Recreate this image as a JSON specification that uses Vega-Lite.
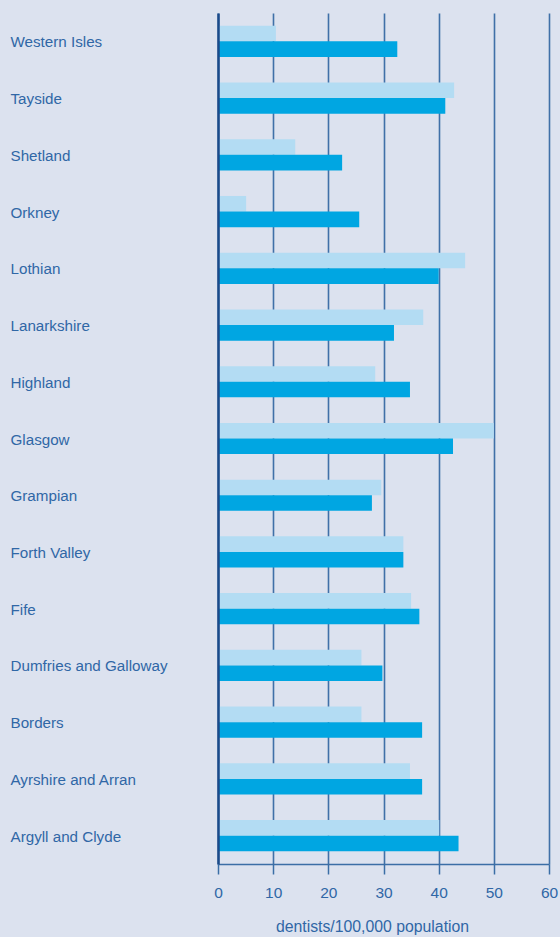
{
  "$schema": "https://vega.github.io/schema/vega-lite/v6.json",
  "width": 331,
  "height": 851,
  "autosize": {"type": "none"},
  "padding": {"left": 218, "top": 13, "right": 11, "bottom": 73},
  "background": "#dce2ef",
  "config": {
    "view": {"stroke": null},
    "font": "Liberation Sans"
  },
  "data": {
    "values": [
      {"board": "Western Isles", "series": "A", "value": 10.5},
      {"board": "Western Isles", "series": "B", "value": 32.5},
      {"board": "Tayside", "series": "A", "value": 42.8},
      {"board": "Tayside", "series": "B", "value": 41.2},
      {"board": "Shetland", "series": "A", "value": 14.0},
      {"board": "Shetland", "series": "B", "value": 22.5},
      {"board": "Orkney", "series": "A", "value": 5.1},
      {"board": "Orkney", "series": "B", "value": 25.6},
      {"board": "Lothian", "series": "A", "value": 44.8},
      {"board": "Lothian", "series": "B", "value": 40.0},
      {"board": "Lanarkshire", "series": "A", "value": 37.2},
      {"board": "Lanarkshire", "series": "B", "value": 31.9},
      {"board": "Highland", "series": "A", "value": 28.5},
      {"board": "Highland", "series": "B", "value": 34.8},
      {"board": "Glasgow", "series": "A", "value": 50.0},
      {"board": "Glasgow", "series": "B", "value": 42.6},
      {"board": "Grampian", "series": "A", "value": 29.6},
      {"board": "Grampian", "series": "B", "value": 27.9},
      {"board": "Forth Valley", "series": "A", "value": 33.6},
      {"board": "Forth Valley", "series": "B", "value": 33.6},
      {"board": "Fife", "series": "A", "value": 35.0},
      {"board": "Fife", "series": "B", "value": 36.5},
      {"board": "Dumfries and Galloway", "series": "A", "value": 26.0},
      {"board": "Dumfries and Galloway", "series": "B", "value": 29.8},
      {"board": "Borders", "series": "A", "value": 26.0},
      {"board": "Borders", "series": "B", "value": 37.0},
      {"board": "Ayrshire and Arran", "series": "A", "value": 34.8},
      {"board": "Ayrshire and Arran", "series": "B", "value": 37.0},
      {"board": "Argyll and Clyde", "series": "A", "value": 40.1},
      {"board": "Argyll and Clyde", "series": "B", "value": 43.6}
    ]
  },
  "mark": {"type": "bar"},
  "encoding": {
    "y": {
      "field": "board",
      "type": "nominal",
      "sort": ["Western Isles", "Tayside", "Shetland", "Orkney", "Lothian", "Lanarkshire", "Highland", "Glasgow", "Grampian", "Forth Valley", "Fife", "Dumfries and Galloway", "Borders", "Ayrshire and Arran", "Argyll and Clyde"],
      "scale": {"paddingInner": 0.45, "paddingOuter": 0.225},
      "axis": {
        "title": null,
        "ticks": false,
        "labelAlign": "left",
        "labelPadding": 208,
        "labelFontSize": 15.2,
        "labelColor": "#3067a6",
        "labelFont": "Liberation Sans",
        "labelOffset": 1,
        "domainColor": "#1a4a8a",
        "domainWidth": 2.5,
        "grid": false,
        "zindex": 1
      }
    },
    "yOffset": {
      "field": "series",
      "type": "nominal",
      "sort": ["A", "B"],
      "scale": {"paddingInner": 0, "paddingOuter": 0}
    },
    "x": {
      "field": "value",
      "type": "quantitative",
      "scale": {"domain": [0, 60], "nice": false},
      "axis": {
        "values": [0, 10, 20, 30, 40, 50, 60],
        "title": "dentists/100,000 population",
        "titleFont": "Liberation Sans",
        "titleFontWeight": "normal",
        "titleFontSize": 15.8,
        "titleColor": "#3067a6",
        "titlePadding": 19,
        "titleX": 154,
        "labelFontSize": 15.5,
        "labelColor": "#3067a6",
        "labelFont": "Liberation Sans",
        "labelPadding": 11,
        "labelFlush": false,
        "tickSize": 10,
        "tickColor": "#3b6ea6",
        "tickWidth": 1.5,
        "domainColor": "#3b6ea6",
        "domainWidth": 1.5,
        "grid": true,
        "gridColor": "#2f64a0",
        "gridWidth": 1.6,
        "gridOpacity": 0.9
      }
    },
    "color": {
      "field": "series",
      "type": "nominal",
      "scale": {"domain": ["A", "B"], "range": ["#b3dcf3", "#00a6e2"]},
      "legend": null
    }
  }
}
